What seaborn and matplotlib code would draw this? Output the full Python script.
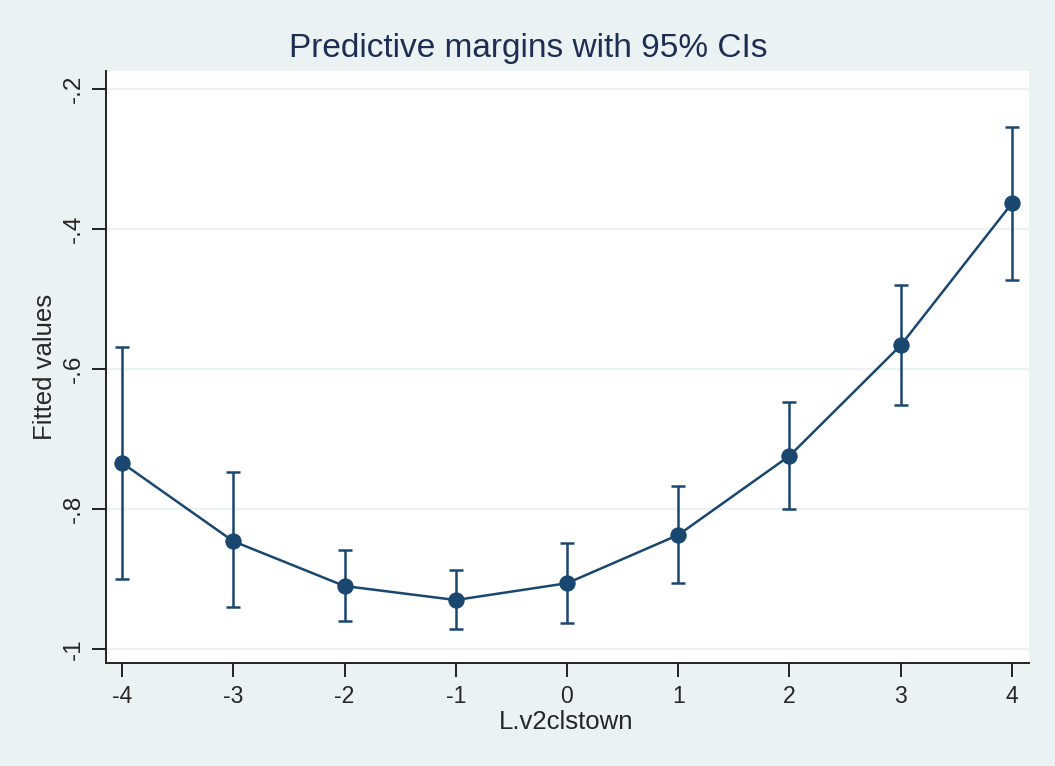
import matplotlib
matplotlib.use("Agg")
import matplotlib.pyplot as plt
import seaborn as sns
import numpy as np
import pandas as pd

# Predictive margins of fitted values over L.v2clstown
x_levels = [-4, -3, -2, -1, 0, 1, 2, 3, 4]
margin = [-0.734, -0.846, -0.910, -0.930, -0.906, -0.837, -0.724, -0.566, -0.363]
ci_low = [-0.900, -0.940, -0.960, -0.971, -0.963, -0.906, -0.800, -0.651, -0.473]
ci_high = [-0.569, -0.747, -0.859, -0.887, -0.849, -0.767, -0.647, -0.480, -0.254]
y_ticks = [-1.0, -0.8, -0.6, -0.4, -0.2]
y_tick_labels = ["-1", "-.8", "-.6", "-.4", "-.2"]

df = pd.DataFrame({"x": x_levels, "margin": margin, "lo": ci_low, "hi": ci_high})

navy = "#1A476F"
bg = "#EAF2F3"

sns.set_theme(style="white")
plt.rcParams["font.family"] = ["Liberation Sans", "DejaVu Sans"]

fig = plt.figure(figsize=(10.55, 7.66), dpi=100, facecolor=bg)
ax = fig.add_axes([106 / 1055, 1 - 663 / 766, (1029 - 106) / 1055, (663 - 71) / 766])
ax.set_facecolor("white")

# horizontal grid lines at the y ticks
for yv in y_ticks:
    ax.axhline(yv, color=bg, lw=1.6, zorder=0)

ax.errorbar(df["x"], df["margin"],
            yerr=[df["margin"] - df["lo"], df["hi"] - df["margin"]],
            fmt="none", ecolor=navy, elinewidth=1.8, capsize=5, capthick=1.8, zorder=2)
sns.lineplot(data=df, x="x", y="margin", ax=ax, color=navy, lw=1.8,
             marker="o", markersize=11, markeredgecolor=navy, markerfacecolor=navy,
             zorder=3)

ax.set_xlim(-4.144, 4.153)
ax.set_ylim(-1.02, -0.174)
ax.set_xticks(x_levels)
ax.set_xticklabels([str(v) for v in x_levels], fontsize=16.5)
ax.set_yticks(y_ticks)
ax.set_yticklabels(y_tick_labels, fontsize=17.5, rotation=90, va="center")

for side in ["top", "right"]:
    ax.spines[side].set_visible(False)
for side in ["left", "bottom"]:
    ax.spines[side].set_color("#222222")
    ax.spines[side].set_linewidth(1.4)

ax.tick_params(axis="both", direction="out", length=10, width=1.4, color="#222222",
               left=True, bottom=True, pad=6)
ax.tick_params(axis="x", pad=6)
ax.tick_params(axis="y", pad=5)

ax.set_xlabel("L.v2clstown", fontsize=18.5)
ax.set_ylabel("Fitted values", fontsize=18.5)
ax.xaxis.set_label_coords(0.498, -0.1)
ax.yaxis.set_label_coords(-0.066, 0.5)
ax.xaxis.label.set_va("center")
ax.yaxis.label.set_va("center")

fig.text(528 / 1055, 1 - 48 / 766, "Predictive margins with 95% CIs",
         ha="center", va="center", fontsize=24, color="#1E2D53")

fig.savefig("out.png", dpi=100, facecolor=bg)
